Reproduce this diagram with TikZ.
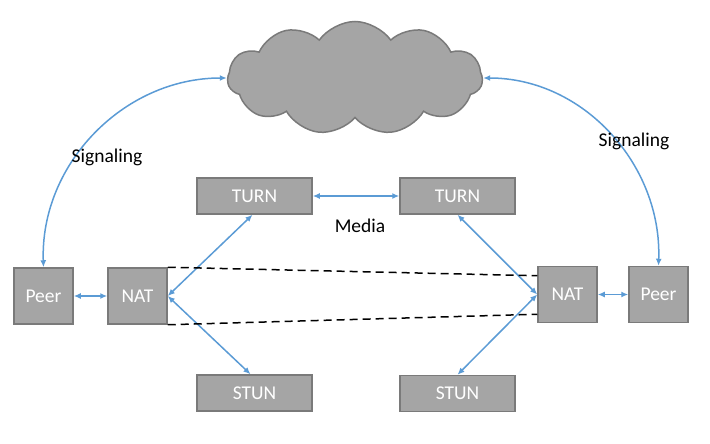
\documentclass[tikz,border=0pt]{standalone}
\usepackage{fontspec}
\setmainfont{Carlito}
\usepackage{tikz}
\usetikzlibrary{arrows.meta,shapes.symbols}

\definecolor{boxgray}{HTML}{A5A5A5}
\definecolor{edgegray}{HTML}{7A7A7A}
\definecolor{linkblue}{HTML}{5B9BD5}

\begin{document}
\begin{tikzpicture}[x=1pt, y=-1pt, >={Latex[length=7pt,width=6pt]},
	box/.style={draw=edgegray, line width=1.5pt, fill=boxgray, text=white, font=\fontsize{19.5}{22}\selectfont},
	peerbox/.style={box, minimum width=59pt, minimum height=56pt},
	srvbox/.style={box, minimum width=115pt, minimum height=36pt},
	link/.style={<->, linkblue, line width=1.5pt},
	lbl/.style={font=\fontsize{19.5}{22}\selectfont}]
	\useasboundingbox (0,0) rectangle (710,444);
	% cloud
	\node[cloud, cloud puffs=11, cloud puff arc=110, aspect=2.3, draw=edgegray, line width=1.5pt, fill=boxgray,
		minimum width=255pt, minimum height=113pt, inner sep=0pt] (net) at (355,78) {};
	% boxes
	\node[peerbox] (peerL) at (43.5,296) {Peer};
	\node[peerbox] (natL) at (137.5,296) {NAT};
	\node[peerbox] (natR) at (567.5,294.5) {NAT};
	\node[peerbox] (peerR) at (658.5,294.5) {Peer};
	\node[srvbox] (turnL) at (254.5,196) {TURN};
	\node[srvbox] (turnR) at (457.5,196) {TURN};
	\node[srvbox] (stunL) at (254.5,393) {STUN};
	\node[srvbox] (stunR) at (457.5,393.5) {STUN};
	% signaling
	\draw[link] (net.west) to[out=180, in=92] (peerL.north);
	\draw[link] (net.east) to[out=0, in=88] (peerR.north);
	\node[lbl] (sigL) at (107,157) {Signaling};
	\node[lbl] (sigR) at (634,141) {Signaling};
	% media
	\draw[link] (turnL) -- (turnR);
	\node[lbl] (media) at (360,226) {Media};
	\draw[link] (peerL) -- (natL);
	\draw[link] (natR) -- (peerR);
	\draw[link] (natL.east) -- ([xshift=-2pt]turnL.south);
	\draw[link] (natL.east) -- ([xshift=-4pt]stunL.north);
	\draw[link] (natR.west) -- (turnR.south);
	\draw[link] (natR.west) -- (stunR.north);
	% tunnel
	\draw[line width=1.5pt, dash pattern=on 8pt off 5pt] (natL.north east) -- ([yshift=-10pt]natR.north west);
	\draw[line width=1.5pt, dash pattern=on 8pt off 5pt] (natL.south east) -- ([yshift=9pt]natR.south west);
\end{tikzpicture}
\end{document}
